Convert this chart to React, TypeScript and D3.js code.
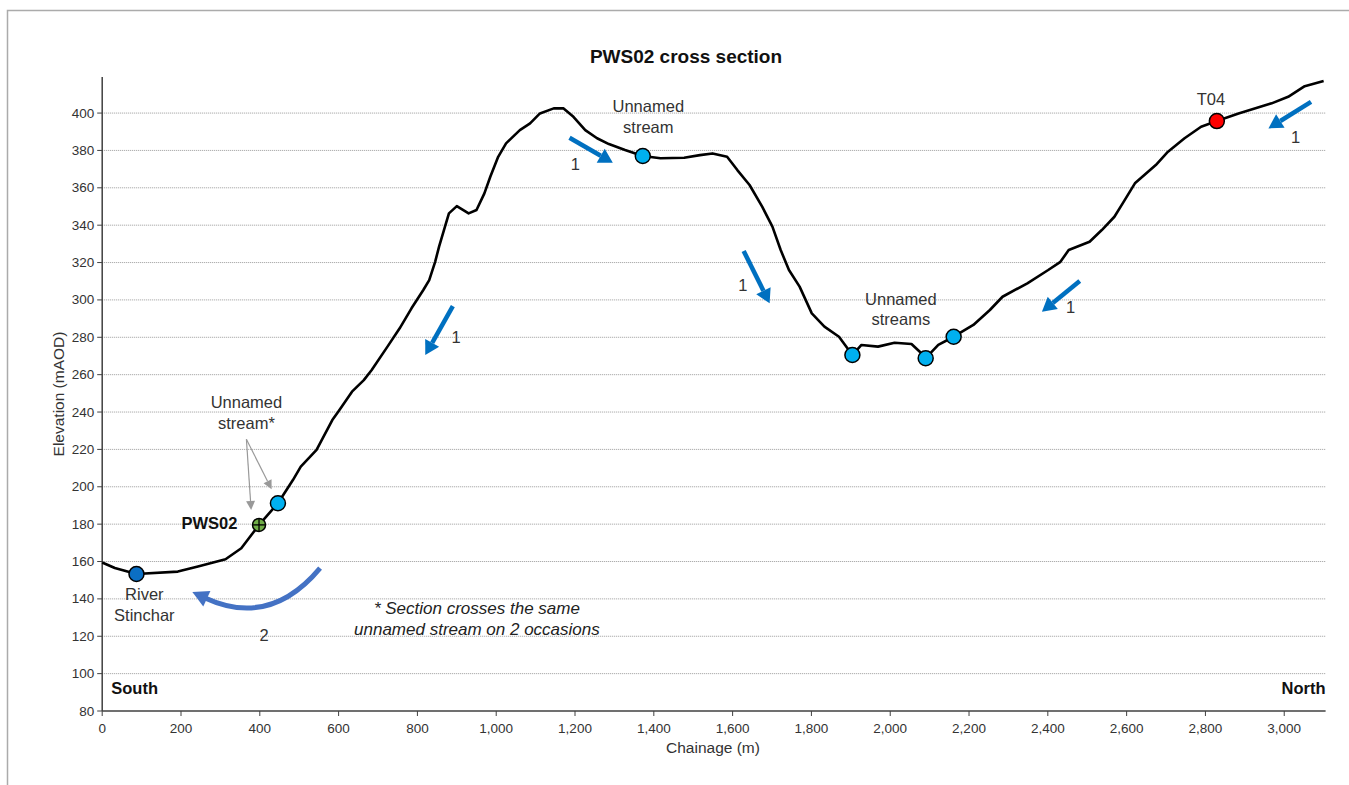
import React from 'react';
import * as d3 from 'd3';

// ---- Profile data (chainage m, elevation mAOD) ----
const chainage = [0, 32, 87, 192, 243, 313, 353, 398, 446, 484, 504, 544, 584, 599, 634, 664, 684, 724, 755, 785, 815, 830, 845, 855, 870, 880, 900, 930, 950, 970, 985, 1005, 1025, 1060, 1086, 1111, 1146, 1171, 1196, 1226, 1256, 1286, 1327, 1372, 1417, 1477, 1517, 1549, 1586, 1612, 1643, 1675, 1701, 1722, 1743, 1770, 1801, 1833, 1870, 1904, 1927, 1969, 2011, 2054, 2075, 2090, 2122, 2161, 2211, 2253, 2285, 2348, 2401, 2432, 2453, 2506, 2537, 2569, 2590, 2621, 2674, 2705, 2747, 2789, 2829, 2884, 2968, 3010, 3052, 3100];
const elevation = [159.5, 156.5, 153.3, 154.6, 157.3, 161.2, 167.1, 179.6, 191.2, 203.6, 210.8, 219.7, 235.7, 240.2, 250.9, 257.1, 262.5, 275, 284.8, 295.5, 305.3, 310.6, 320.4, 328.5, 339.2, 346.3, 350.2, 346.3, 348.1, 357, 365.9, 376.6, 383.8, 390.9, 394.5, 399.8, 402.5, 402.5, 398, 390.9, 386.5, 383.4, 380.2, 377, 375.8, 376.1, 377.5, 378.4, 376.6, 369.5, 361.5, 349.9, 339.2, 326.7, 316, 307.1, 292.8, 285.7, 280.3, 270.5, 275.9, 275, 277.1, 276.4, 272.3, 268.8, 275.9, 280.3, 286.6, 294.6, 301.7, 308.9, 316, 320.4, 326.7, 331.1, 337.4, 344.5, 351.7, 362.4, 372.2, 379.3, 386.5, 392.7, 395.7, 399.8, 405.2, 408.7, 414.4, 417.1];

// ---- Point features ----
const featureChainage = [87, 398, 446, 1372, 1904, 2090, 2161, 2829];
const featureElevation = [153.3, 179.6, 191.2, 377, 270.5, 268.8, 280.3, 395.7];
const featureType = ['river', 'pws', 'stream', 'stream', 'stream', 'stream', 'stream', 'trial'];

// ---- Axis ticks ----
const xTicks = [0, 200, 400, 600, 800, 1000, 1200, 1400, 1600, 1800, 2000, 2200, 2400, 2600, 2800, 3000];
const yTicks = [80, 100, 120, 140, 160, 180, 200, 220, 240, 260, 280, 300, 320, 340, 360, 380, 400];
const xDomain = [0, 3105];
const yDomain = [80, 419.3];

// ---- Text annotations (data units) ----
const labelText = ['River', 'Stinchar', 'PWS02', 'Unnamed', 'stream*', 'Unnamed', 'stream', 'Unnamed', 'streams', 'T04', 'South', 'North', '* Section crosses the same', 'unnamed stream on 2 occasions', '2'];
const labelX = [107, 107, 343, 366, 366, 1386, 1386, 2027, 2027, 2814, 23, 3105, 951, 951, 411];
const labelY = [142.6, 131.4, 180.4, 245.5, 234.3, 403.7, 392.7, 300.3, 290, 407.3, 92.2, 92.2, 134.6, 123.8, 120.7];
const labelKind = ['plain', 'plain', 'boldEnd', 'plain', 'plain', 'plain', 'plain', 'plain', 'plain', 'plain', 'boldStart', 'boldEnd', 'italic', 'italic', 'plain'];

// ---- Flow arrows (data units): start, tip, label ----
const flowX1 = [890, 1186, 1628, 2481, 3068];
const flowY1 = [296.7, 386.8, 326.2, 310.1, 406];
const flowX2 = [820, 1296, 1694, 2385, 2960];
const flowY2 = [270.5, 373.4, 298.2, 293.7, 391.8];
const flowLabelX = [898, 1201, 1626, 2458, 3029];
const flowLabelY = [280.3, 372.7, 308, 296.4, 387];

// ---- Pointer arrows for "Unnamed stream*" ----
const pointerFrom = [366, 225.4];
const pointerToX = [378, 430];
const pointerToY = [187.6, 198.7];

// ---- Curved arrow "2" (start, control, end) ----
const curveX = [553, 426, 261];
const curveY = [156.5, 124.4, 140.5];

const FONT = '"Liberation Sans", Arial, Helvetica, sans-serif';

function arrowHead(x1: number, y1: number, x2: number, y2: number, len: number, half: number) {
  const dx = x2 - x1, dy = y2 - y1;
  const d = Math.hypot(dx, dy) || 1;
  const ux = dx / d, uy = dy / d;
  const bx = x2 - ux * len, by = y2 - uy * len;
  const px = -uy, py = ux;
  return {
    base: [bx, by],
    poly: `${x2},${y2} ${bx + px * half},${by + py * half} ${bx - px * half},${by - py * half}`,
  };
}

export default function App() {
  const W = 1349, H = 785;
  const x = d3.scaleLinear().domain(xDomain).range([102.2, 1325.6]);
  const y = d3.scaleLinear().domain(yDomain).range([711, 77]);

  const pts = chainage.map((c, i) => [c, elevation[i]] as [number, number]);
  const line = d3.line<[number, number]>().x(d => x(d[0])).y(d => y(d[1])).curve(d3.curveLinear);

  const fmt = d3.format(',');

  const markerStyle: Record<string, { fill: string; r: number }> = {
    river: { fill: '#0b6fc4', r: 7.5 },
    pws: { fill: '#70ad47', r: 6.5 },
    stream: { fill: '#00b0f0', r: 7.5 },
    trial: { fill: '#ff0000', r: 7.5 },
  };

  const labelStyle = (k: string): any => {
    if (k === 'boldEnd') return { fontWeight: 'bold', fontSize: 16.5, textAnchor: 'end', fill: '#111' };
    if (k === 'boldStart') return { fontWeight: 'bold', fontSize: 16.5, textAnchor: 'start', fill: '#111' };
    if (k === 'italic') return { fontStyle: 'italic', fontSize: 17, textAnchor: 'middle', fill: '#222' };
    return { fontSize: 16.5, textAnchor: 'middle', fill: '#333' };
  };

  // curved arrow
  const cx0 = x(curveX[0]), cy0 = y(curveY[0]);
  const cxc = x(curveX[1]), cyc = y(curveY[1]);
  const cx1 = x(curveX[2]), cy1 = y(curveY[2]);
  const cdx = cx1 - cxc, cdy = cy1 - cyc;
  const cd = Math.hypot(cdx, cdy);
  const tipX = cx1 + (cdx / cd) * 14, tipY = cy1 + (cdy / cd) * 14;
  const curveHead = arrowHead(cx1, cy1, tipX, tipY, 16, 8.5);

  return (
    <svg width={W} height={H} style={{ position: 'absolute', left: 0, top: 0, fontFamily: FONT }}>
      <rect x={0} y={0} width={W} height={H} fill="#fff" />
      <rect x={7.5} y={10.5} width={W + 20} height={H + 20} fill="none" stroke="#ababab" strokeWidth={1.5} />

      {/* title */}
      <text x={686} y={56} textAnchor="middle" dominantBaseline="central" fontWeight="bold" fontSize={19} fill="#111">PWS02 cross section</text>

      {/* grid */}
      {yTicks.filter(t => t > 80).map(t => (
        <line key={'g' + t} x1={x(xDomain[0])} x2={x(xDomain[1])} y1={y(t)} y2={y(t)} stroke="#9a9a9a" strokeWidth={1} strokeDasharray="1,1" />
      ))}

      {/* axes */}
      <line x1={x(0)} x2={x(0)} y1={y(yDomain[1])} y2={y(80)} stroke="#404040" strokeWidth={1.5} />
      <line x1={x(0)} x2={x(xDomain[1])} y1={y(80)} y2={y(80)} stroke="#404040" strokeWidth={1.5} />
      {yTicks.map(t => (
        <g key={'yt' + t}>
          <line x1={x(0) - 5} x2={x(0)} y1={y(t)} y2={y(t)} stroke="#404040" strokeWidth={1} />
          <text x={x(0) - 8} y={y(t)} textAnchor="end" dominantBaseline="central" fontSize={13.5} fill="#333">{t}</text>
        </g>
      ))}
      {xTicks.map(t => (
        <g key={'xt' + t}>
          <line x1={x(t)} x2={x(t)} y1={y(80)} y2={y(80) + 5} stroke="#404040" strokeWidth={1} />
          <text x={x(t)} y={y(80) + 17} textAnchor="middle" dominantBaseline="central" fontSize={13.5} fill="#333">{fmt(t)}</text>
        </g>
      ))}
      <text x={713} y={747} textAnchor="middle" dominantBaseline="central" fontSize={15.5} fill="#333">Chainage (m)</text>
      <text transform={`translate(58,${(y(yDomain[1]) + y(80)) / 2}) rotate(-90)`} textAnchor="middle" dominantBaseline="central" fontSize={15.5} fill="#333">Elevation (mAOD)</text>

      {/* profile */}
      <path d={line(pts) || ''} fill="none" stroke="#000" strokeWidth={2.6} strokeLinejoin="round" />

      {/* pointer arrows */}
      {pointerToX.map((px, i) => {
        const sx = x(pointerFrom[0]), sy = y(pointerFrom[1]);
        const ex = x(px), ey = y(pointerToY[i]);
        const h = arrowHead(sx, sy, ex, ey, 9, 4.5);
        return (
          <g key={'p' + i}>
            <line x1={sx} y1={sy} x2={h.base[0]} y2={h.base[1]} stroke="#999" strokeWidth={1.2} />
            <polygon points={h.poly} fill="#999" />
          </g>
        );
      })}

      {/* flow arrows */}
      {flowX1.map((fx, i) => {
        const sx = x(fx), sy = y(flowY1[i]);
        const ex = x(flowX2[i]), ey = y(flowY2[i]);
        const h = arrowHead(sx, sy, ex, ey, 14, 8);
        return (
          <g key={'f' + i}>
            <line x1={sx} y1={sy} x2={h.base[0]} y2={h.base[1]} stroke="#0070c0" strokeWidth={4.5} />
            <polygon points={h.poly} fill="#0070c0" />
            <text x={x(flowLabelX[i])} y={y(flowLabelY[i])} textAnchor="middle" dominantBaseline="central" fontSize={16.5} fill="#333">1</text>
          </g>
        );
      })}

      {/* curved arrow */}
      <path d={`M${cx0},${cy0} Q${cxc},${cyc} ${cx1},${cy1}`} fill="none" stroke="#4472c4" strokeWidth={5} />
      <polygon points={curveHead.poly} fill="#4472c4" />

      {/* markers */}
      {featureChainage.map((c, i) => {
        const s = markerStyle[featureType[i]];
        const mx = x(c), my = y(featureElevation[i]);
        return (
          <g key={'m' + i}>
            <circle cx={mx} cy={my} r={s.r} fill={s.fill} stroke="#000" strokeWidth={1.5} />
            {featureType[i] === 'pws' && (
              <g stroke="#000" strokeWidth={1.3}>
                <line x1={mx - s.r} x2={mx + s.r} y1={my} y2={my} />
                <line x1={mx} x2={mx} y1={my - s.r} y2={my + s.r} />
              </g>
            )}
          </g>
        );
      })}

      {/* labels */}
      {labelText.map((t, i) => (
        <text key={'l' + i} x={x(labelX[i])} y={y(labelY[i])} dominantBaseline="central" {...labelStyle(labelKind[i])}>{t}</text>
      ))}
    </svg>
  );
}
